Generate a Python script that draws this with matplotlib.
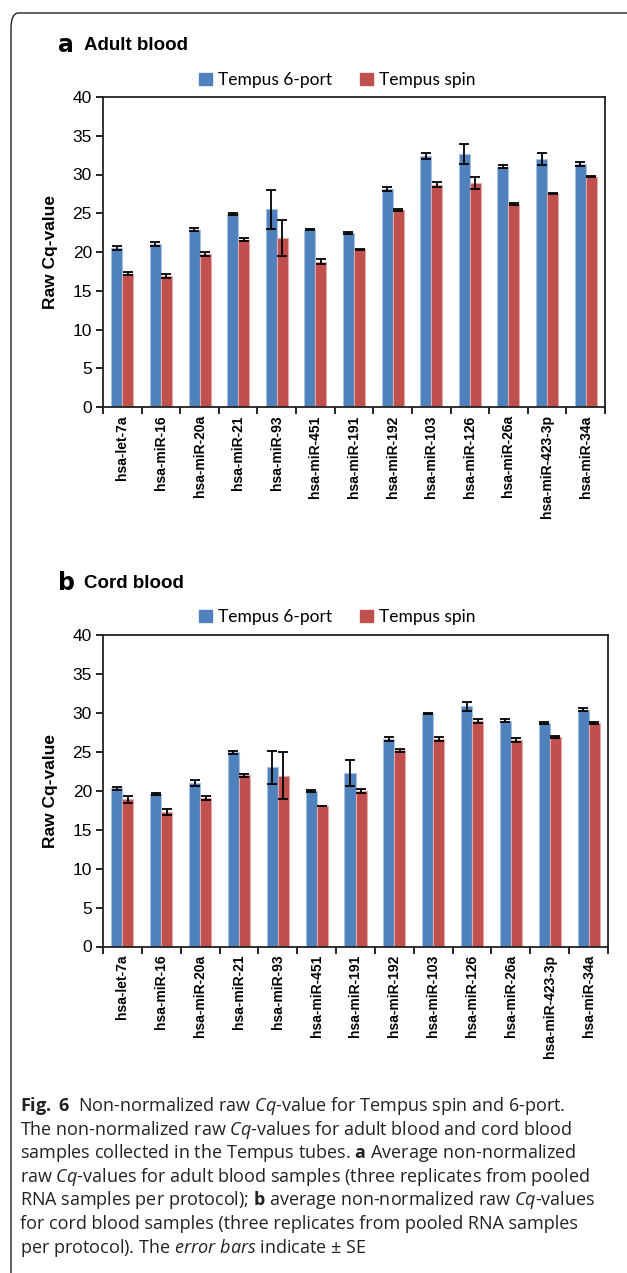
import numpy as np
import matplotlib
matplotlib.use('Agg')
import matplotlib.pyplot as plt
from matplotlib.patches import FancyBboxPatch, Patch

plt.rcParams['font.family'] = ['Liberation Sans', 'DejaVu Sans']
plt.rcParams['mathtext.fontset'] = 'custom'
plt.rcParams['mathtext.rm'] = 'Open Sans'
plt.rcParams['mathtext.it'] = 'Open Sans:italic'
plt.rcParams['mathtext.bf'] = 'Open Sans:bold'

# miRNA targets
mirnas = ['hsa-let-7a', 'hsa-miR-16', 'hsa-miR-20a', 'hsa-miR-21', 'hsa-miR-93',
          'hsa-miR-451', 'hsa-miR-191', 'hsa-miR-192', 'hsa-miR-103', 'hsa-miR-126',
          'hsa-miR-26a', 'hsa-miR-423-3p', 'hsa-miR-34a']

# a: adult blood
adult_6port = [20.5, 21.0, 22.9, 24.9, 25.5, 22.9, 22.45, 28.1, 32.4, 32.6, 31.0, 32.0, 31.35]
adult_6port_se = [0.3, 0.25, 0.2, 0.15, 2.5, 0.08, 0.1, 0.25, 0.4, 1.3, 0.2, 0.8, 0.2]
adult_spin = [17.2, 16.9, 19.75, 21.6, 21.8, 18.75, 20.35, 25.4, 28.7, 28.9, 26.2, 27.5, 29.7]
adult_spin_se = [0.2, 0.2, 0.25, 0.2, 2.3, 0.3, 0.08, 0.1, 0.35, 0.8, 0.08, 0.06, 0.06]

# b: cord blood
cord_6port = [20.3, 19.6, 21.0, 24.95, 23.0, 20.0, 22.25, 26.65, 29.9, 30.85, 29.0, 28.7, 30.4]
cord_6port_se = [0.2, 0.1, 0.35, 0.2, 2.1, 0.15, 1.65, 0.2, 0.1, 0.55, 0.2, 0.1, 0.2]
cord_spin = [18.9, 17.3, 19.1, 22.0, 21.95, 18.05, 19.95, 25.2, 26.65, 28.9, 26.5, 26.9, 28.7]
cord_spin_se = [0.45, 0.4, 0.25, 0.2, 3.0, 0.05, 0.25, 0.2, 0.25, 0.25, 0.25, 0.1, 0.1]

series_names = ['Tempus 6-port', 'Tempus spin']

blue = '#4F81BD'
red = '#C0504D'
W, H = 627, 1273

fig = plt.figure(figsize=(W / 100, H / 100), dpi=100)

# rounded frame around the whole figure
frame = FancyBboxPatch((11 / W, -0.05), 1.2, (H - 13) / H + 0.05,
                       boxstyle='round,pad=0,rounding_size=0.012',
                       transform=fig.transFigure, fill=False, lw=1.0, ec='#222222')
fig.patches.append(frame)


def panel(rect, v1, e1, v2, e2, letter, title, title_y, legend_y):
	ax = fig.add_axes(rect)
	x = np.arange(len(mirnas))
	bw = 0.285
	ekw = dict(ecolor='black', elinewidth=1.3, capthick=1.3)
	ax.bar(x - bw / 2, v1, bw, color=blue, edgecolor='#A9C1E0', linewidth=0.8,
	       yerr=e1, capsize=3.5, error_kw=ekw, zorder=2)
	ax.bar(x + bw / 2, v2, bw, color=red, edgecolor='#E2A9A8', linewidth=0.8,
	       yerr=e2, capsize=3.5, error_kw=ekw, zorder=2)
	ax.set_xlim(-0.5, len(mirnas) - 0.5)
	ax.set_ylim(0, 40)
	ax.set_yticks(range(0, 41, 5))
	ax.tick_params(axis='y', labelsize=12.5, direction='out', length=5, width=1.2, pad=3)
	# boundary ticks on x, labels at category centres
	ax.set_xticks(np.arange(-0.5, len(mirnas), 1))
	ax.set_xticklabels([])
	ax.tick_params(axis='x', which='major', direction='out', length=5, width=1.2)
	ax.set_xticks(x, minor=True)
	ax.set_xticklabels(mirnas, minor=True, rotation=90, fontsize=10, fontweight='bold')
	ax.tick_params(axis='x', which='minor', length=0, pad=6)
	for s in ax.spines.values():
		s.set_linewidth(1.3)
		s.set_color('#222222')
	ax.set_ylabel('Raw Cq-value', fontsize=12.5, fontweight='bold', labelpad=10)

	fig.text(58 / W, 1 - title_y / H, letter, fontsize=17, fontweight='bold',
	         ha='left', va='center', family=['DejaVu Sans'])
	fig.text(84 / W, 1 - title_y / H, title, fontsize=13.5, fontweight='bold',
	         ha='left', va='center')
	handles = [Patch(color=blue), Patch(color=red)]
	fig.legend(handles, series_names, loc='center', ncol=2, frameon=False,
	           bbox_to_anchor=(337 / W, 1 - legend_y / H),
	           prop={'family': 'Lato', 'size': 12.5},
	           handlelength=0.75, handleheight=0.75, handletextpad=0.35, columnspacing=1.6)
	return ax


panel([103 / W, 1 - 407 / H, 502 / W, 310 / H], adult_6port, adult_6port_se,
      adult_spin, adult_spin_se, 'a', 'Adult blood', 45, 80)
panel([103 / W, 1 - 946.5 / H, 505 / W, 311.5 / H], cord_6port, cord_6port_se,
      cord_spin, cord_spin_se, 'b', 'Cord blood', 583, 617)

caption = [
	r'$\mathbf{Fig.}$$\mathbf{6}$  Non-normalized raw $\mathit{Cq}$-value for Tempus spin and 6-port.',
	r'The non-normalized raw $\mathit{Cq}$-values for adult blood and cord blood',
	r'samples collected in the Tempus tubes. $\mathbf{a}$ Average non-normalized',
	r'raw $\mathit{Cq}$-values for adult blood samples (three replicates from pooled',
	r'RNA samples per protocol); $\mathbf{b}$ average non-normalized raw $\mathit{Cq}$-values',
	r'for cord blood samples (three replicates from pooled RNA samples',
	r'per protocol). The $\mathit{error\ bars}$ indicate ± SE',
]
caption[0] = caption[0].replace('$$', '$ $')
for i, line in enumerate(caption):
	fig.text(20 / W, 1 - (1106 + i * 23.6) / H, line, fontsize=13, ha='left', va='center',
	         family=['Open Sans', 'DejaVu Sans'], color='#222222')

fig.savefig('out.png', dpi=100)
